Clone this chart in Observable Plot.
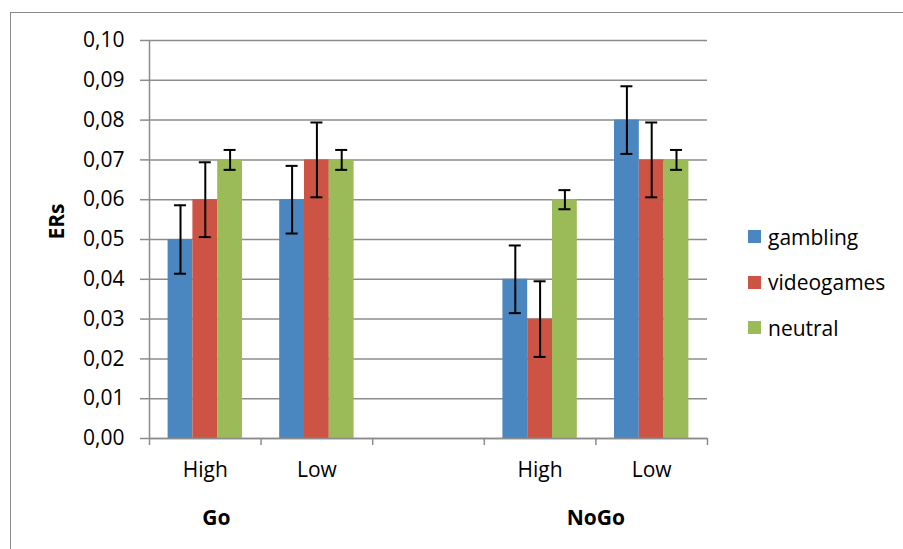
<!DOCTYPE html>
<html><head><meta charset="utf-8">
<script src="https://cdn.jsdelivr.net/npm/d3@7"></script>
<script src="https://cdn.jsdelivr.net/npm/@observablehq/plot@0.6"></script>
<style>
body{margin:0;background:#fff;}
#wrap{position:relative;width:903px;height:549px;overflow:hidden;font-family:"Open Sans",sans-serif;background:#fff;}
#chart{position:absolute;left:0;top:0;}
#border{position:absolute;left:10px;top:12px;width:1000px;height:1000px;border:1.5px solid #8a8a8a;box-sizing:border-box;}
#legend{position:absolute;left:748px;top:214px;}
.item{display:flex;align-items:center;height:45.5px;font-size:21px;color:#000;}
.sw{width:13px;height:13px;margin-right:7px;flex:none;}
</style></head><body>
<div id="wrap"><div id="chart"></div><div id="border"></div><div id="legend"></div></div>
<script>
const groups = ["Go", "Go", "", "NoGo", "NoGo"];
const levels = ["High", "Low", "", "High", "Low"];
const series = ["gambling", "videogames", "neutral"];
const colors = ["#4a86bf", "#cd5445", "#9bbb59"];
const gambling = [0.05, 0.06, null, 0.04, 0.08];
const videogames = [0.06, 0.07, null, 0.03, 0.07];
const neutral = [0.07, 0.07, null, 0.06, 0.07];
const gamblingErr = [0.0086, 0.0085, null, 0.0085, 0.0085];
const videogamesErr = [0.0094, 0.0094, null, 0.0095, 0.0094];
const neutralErr = [0.0025, 0.0025, null, 0.0024, 0.0025];
const yTicks = [0, 0.01, 0.02, 0.03, 0.04, 0.05, 0.06, 0.07, 0.08, 0.09, 0.10];

const values = [gambling, videogames, neutral];
const errs = [gamblingErr, videogamesErr, neutralErr];
const nCat = levels.length;
const slots = series.length + 1.5; // bar slots per category (0.75 gap each side)
const rows = [];
levels.forEach((lv, i) => {
  series.forEach((s, j) => {
    const v = values[j][i];
    if (v == null) return;
    rows.push({i, j, series: s, value: v, err: errs[j][i],
      x1: i + (0.75 + j) / slots, x2: i + (1.75 + j) / slots, xm: i + (1.25 + j) / slots});
  });
});
const cats = levels.map((l, i) => ({i, level: l, group: groups[i]})).filter(d => d.level);
const groupNames = [...new Set(groups.filter(g => g))];
const groupCenters = groupNames.map(g => {
  const idx = groups.map((gg, i) => gg === g ? i + 0.5 : null).filter(v => v != null);
  return {group: g, x: d3.mean(idx), first: idx[0]};
});
const grey = "#8c8c8c";
const fmt = d => d3.format(".2f")(d).replace(".", ",");

const chart = Plot.plot({
  width: 903, height: 549,
  marginLeft: 149, marginRight: 196, marginTop: 40, marginBottom: 111,
  style: {fontFamily: "Open Sans, sans-serif", fontSize: "21px", background: "transparent", color: "black"},
  x: {type: "linear", domain: [0, nCat]},
  y: {domain: [0, 0.1]},
  color: {domain: series, range: colors},
  marks: [
    Plot.gridY(yTicks, {stroke: grey, strokeOpacity: 1, strokeWidth: 1.5}),
    Plot.rectY(rows, {x1: "x1", x2: "x2", y: "value", fill: "series"}),
    Plot.ruleX(rows, {x: "xm", y1: d => d.value - d.err, y2: d => d.value + d.err, stroke: "black", strokeWidth: 2}),
    Plot.ruleY(rows, {y: d => d.value + d.err, x1: "xm", x2: "xm", insetLeft: -6, insetRight: -6, stroke: "black", strokeWidth: 2}),
    Plot.ruleY(rows, {y: d => d.value - d.err, x1: "xm", x2: "xm", insetLeft: -6, insetRight: -6, stroke: "black", strokeWidth: 2}),
    Plot.ruleY([0], {stroke: grey, strokeWidth: 1.5}),
    Plot.ruleX([0], {stroke: grey, strokeWidth: 1.5}),
    Plot.axisY(yTicks, {tickFormat: fmt, tickSize: 9, tickPadding: 16, fontSize: 21, stroke: grey, strokeWidth: 1.5, fill: "black", label: null}),
    Plot.axisX(d3.range(nCat + 1), {tickSize: 7, tickFormat: () => "", stroke: grey, strokeWidth: 1.5, label: null}),
    Plot.text(cats, {x: d => d.i + 0.5, y: () => 0, text: "level", dy: 32, fontSize: 21, fill: "black"}),
    Plot.text(groupCenters.filter(d => d.group === "Go"), {x: "first", y: () => 0, text: "group", dy: 80, dx: 11, fontSize: 21, fontWeight: "bold", fill: "black"}),
    Plot.text(groupCenters.filter(d => d.group === "NoGo"), {x: "x", y: () => 0, text: "group", dy: 80, fontSize: 21, fontWeight: "bold", fill: "black"}),
    Plot.text(["ERs"], {frameAnchor: "left", dx: -92, rotate: -90, fontSize: 21, fontWeight: "bold", fill: "black"})
  ]
});
document.getElementById("chart").appendChild(chart);

const legend = document.getElementById("legend");
series.forEach((s, j) => {
  const item = document.createElement("div");
  item.className = "item";
  const sw = document.createElement("div");
  sw.className = "sw";
  sw.style.background = colors[j];
  const t = document.createElement("span");
  t.textContent = s;
  item.appendChild(sw); item.appendChild(t);
  legend.appendChild(item);
});
</script>
</body></html>
